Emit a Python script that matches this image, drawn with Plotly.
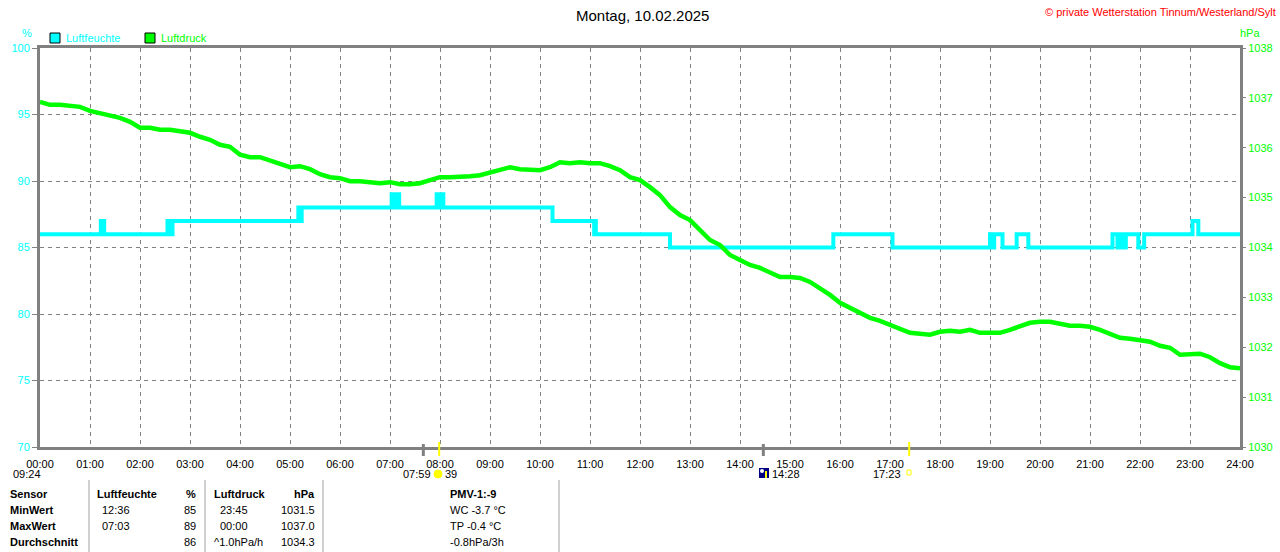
import plotly.graph_objects as go

# Luftfeuchte (%), step values: change time -> new value
hum_times = ["00:00", "01:13", "01:17", "02:33", "02:36", "02:39", "05:10", "05:12",
             "05:14", "07:02", "07:06", "07:07", "07:11", "07:56", "07:59", "08:00",
             "08:04", "10:15", "11:05", "11:06", "11:07", "12:36", "15:52", "17:03",
             "19:00", "19:04", "19:05", "19:15", "19:32", "19:46", "21:27", "21:33",
             "21:35", "21:39", "21:43", "21:58", "22:05", "23:03", "23:10", "24:00"]
hum_values = [86, 87, 86, 87, 86, 87, 88, 87,
              88, 89, 88, 89, 88, 89, 88, 89,
              88, 87, 86, 87, 86, 85, 86, 85,
              86, 85, 86, 85, 86, 85, 86, 85,
              86, 85, 86, 85, 86, 87, 86, 86]

# Luftdruck (hPa), one reading every 12 minutes from 00:00 to 24:00
pressure_step_min = 12
pressure = [
    1036.92, 1036.86, 1036.86, 1036.84, 1036.82, 1036.74, 1036.70, 1036.66, 1036.60, 1036.52,
    1036.40, 1036.40, 1036.36, 1036.36, 1036.34, 1036.30, 1036.22, 1036.16, 1036.06, 1036.02,
    1035.86, 1035.81, 1035.81, 1035.75, 1035.69, 1035.61, 1035.63, 1035.57, 1035.47, 1035.41,
    1035.39, 1035.33, 1035.33, 1035.31, 1035.29, 1035.31, 1035.27, 1035.27, 1035.29, 1035.35,
    1035.41, 1035.41, 1035.41, 1035.43, 1035.45, 1035.51, 1035.55, 1035.61, 1035.57, 1035.55,
    1035.55, 1035.61, 1035.71, 1035.69, 1035.71, 1035.69, 1035.69, 1035.63, 1035.55, 1035.41,
    1035.35, 1035.21, 1035.05, 1034.81, 1034.65, 1034.55, 1034.35, 1034.15, 1034.05, 1033.85,
    1033.75, 1033.65, 1033.59, 1033.51, 1033.41, 1033.41, 1033.39, 1033.31, 1033.19, 1033.05,
    1032.89, 1032.79, 1032.69, 1032.59, 1032.53, 1032.45, 1032.37, 1032.29, 1032.27, 1032.25,
    1032.31, 1032.33, 1032.31, 1032.35, 1032.29, 1032.29, 1032.29, 1032.35, 1032.43, 1032.49,
    1032.51, 1032.51, 1032.47, 1032.43, 1032.43, 1032.41, 1032.35, 1032.27, 1032.19, 1032.17,
    1032.15, 1032.11, 1032.03, 1031.99, 1031.85, 1031.85, 1031.87, 1031.80, 1031.68, 1031.60,
    1031.58,
]

hour_labels = ["%02d:00" % h for h in range(25)]
hum_ticks = [70, 75, 80, 85, 90, 95, 100]
hpa_ticks = [1030, 1031, 1032, 1033, 1034, 1035, 1036, 1037, 1038]

# astronomical markers (time, colour)
markers = [("07:40", "#808080"), ("07:59", "#FFFF00"), ("14:28", "#808080"), ("17:23", "#FFFF00")]

table_rows = [
    ("Sensor", "Luftfeuchte", "%", "Luftdruck", "hPa", "PMV-1:-9"),
    ("MinWert", "12:36", "85", "23:45", "1031.5", "WC -3.7 °C"),
    ("MaxWert", "07:03", "89", "00:00", "1037.0", "TP -0.4 °C"),
    ("Durchschnitt", "", "86", "^1.0hPa/h", "1034.3", "-0.8hPa/3h"),
]


def hours(t):
    h, m = t.split(":")
    return int(h) + int(m) / 60


CYAN = "#00FFFF"
GREEN = "#00FF00"
GRAY = "#808080"
FONT = "Liberation Sans"

# plot area in pixels: x 40..1240, y 48..447
def px(x):
    return (x - 40) / 1200


def py(y):
    return (447 - y) / 399


hum_x = [hours(t) for t in hum_times]
p_x = [i * pressure_step_min / 60 for i in range(len(pressure))]

fig = go.Figure()
fig.add_trace(go.Scatter(x=hum_x, y=hum_values, mode="lines", line_shape="hv",
                         line=dict(color=CYAN, width=4), yaxis="y", hoverinfo="skip"))
fig.add_trace(go.Scatter(x=p_x, y=pressure, mode="lines",
                         line=dict(color=GREEN, width=4.5), yaxis="y2", hoverinfo="skip"))

ann = []


def text(x, y, s, color="black", size=11, bold=False, anchor="left"):
    ann.append(dict(x=px(x), y=py(y), xref="paper", yref="paper", text="<b>%s</b>" % s if bold else s,
                    showarrow=False, xanchor=anchor, yanchor="middle",
                    font=dict(family=FONT, size=size, color=color)))


text(642, 15, "Montag, 10.02.2025", size=15, anchor="center")
text(1278, 12, "© private Wetterstation Tinnum/Westerland/Sylt", color="#FF0000", size=11, anchor="right")
text(27, 33, "%", color=CYAN, anchor="center")
text(1250, 33, "hPa", color=GREEN, anchor="center")
text(64, 38, "Luftfeuchte", color=CYAN)
text(159, 38, "Luftdruck", color=GREEN)

# sun / moon times under the axis
text(11, 474, "09:24")
text(433, 474, "07:59", anchor="right")
text(443, 474, "39")
text(770, 474, "14:28")
text(903, 474, "17:23", anchor="right")

# table
row_y = [494, 510, 526, 542]
for (lab, c1, c2, c3, c4, c5), yy in zip(table_rows, row_y):
    head = yy == row_y[0]
    text(8, yy, lab, bold=True)
    text(95 if head else 100, yy, c1, bold=head)
    text(198, yy, c2, bold=head, anchor="right")
    text(212 if (head or c3.startswith("^")) else 218, yy, c3, bold=head)
    text(317, yy, c4, bold=head, anchor="right")
    text(448, yy, c5, bold=head)

shapes = [
    dict(type="rect", xref="paper", yref="paper", x0=px(50), x1=px(60), y0=py(33), y1=py(43),
         fillcolor=CYAN, line=dict(color="black", width=1)),
    dict(type="rect", xref="paper", yref="paper", x0=px(145), x1=px(155), y0=py(33), y1=py(43),
         fillcolor=GREEN, line=dict(color="black", width=1)),
    # icons
    dict(type="path", xref="paper", yref="paper",
         path="M %f %f A 1 1 0 0 1 %f %f Z" % (px(41), py(476), px(50), py(476)),
         fillcolor="#FFFF00", line=dict(color="#FFFF00", width=1)),
    dict(type="circle", xref="paper", yref="paper", x0=px(434), x1=px(442), y0=py(470), y1=py(478),
         fillcolor="#FFFF00", line=dict(color="#FFFF00", width=1)),
    dict(type="rect", xref="paper", yref="paper", x0=px(759), x1=px(769), y0=py(468), y1=py(478),
         fillcolor="#000080", line=dict(width=0)),
    dict(type="circle", xref="paper", yref="paper", x0=px(760), x1=px(764), y0=py(469), y1=py(473),
         fillcolor="white", line=dict(width=0)),
    dict(type="line", xref="paper", yref="paper", x0=px(766), x1=px(766), y0=py(471), y1=py(478),
         line=dict(color="#FFFF00", width=2)),
    dict(type="rect", xref="paper", yref="paper", x0=px(907), x1=px(911), y0=py(470), y1=py(475),
         line=dict(color="#FFFF00", width=1)),
]
for t, col in markers:
    shapes.append(dict(type="line", xref="x", yref="paper", x0=hours(t), x1=hours(t),
                       y0=py(442 if col != GRAY else 444), y1=py(456),
                       line=dict(color=col, width=2 if col != GRAY else 3)))
for xs in [89, 205, 323, 559]:
    shapes.append(dict(type="line", xref="paper", yref="paper", x0=px(xs), x1=px(xs),
                       y0=py(480), y1=py(552), line=dict(color="#A0A0A0", width=1)))

fig.update_layout(
    width=1280, height=552,
    margin=dict(l=40, r=40, t=48, b=105, autoexpand=False),
    paper_bgcolor="white", plot_bgcolor="white",
    showlegend=False,
    font=dict(family=FONT, size=11, color="black"),
    annotations=ann,
    shapes=shapes,
    xaxis=dict(range=[0, 24], tickvals=list(range(25)), ticktext=hour_labels,
               showgrid=True, gridcolor=GRAY, griddash="4px,4px", gridwidth=1,
               showline=True, linecolor=GRAY, linewidth=3, mirror=True, automargin=False,
               ticks="", zeroline=False, ticklabelstandoff=5,
               tickfont=dict(size=11, color="black")),
    yaxis=dict(range=[70, 100], tickvals=hum_ticks, automargin=False,
               showgrid=True, gridcolor=GRAY, griddash="4px,4px", gridwidth=1,
               showline=True, linecolor=GRAY, linewidth=3, mirror=True,
               ticks="outside", ticklen=5, tickcolor=GRAY, tickwidth=1, zeroline=False,
               tickfont=dict(size=11, color=CYAN)),
    yaxis2=dict(range=[1030, 1038], tickvals=hpa_ticks, overlaying="y", side="right",
                showgrid=False, zeroline=False, showline=False, automargin=False,
                ticks="outside", ticklen=5, tickcolor=GRAY, tickwidth=1,
                tickfont=dict(size=11, color=GREEN)),
)

fig.write_html("out.html", config={"displayModeBar": False},
               post_script="document.body.style.margin='0';document.body.style.overflow='hidden';")
